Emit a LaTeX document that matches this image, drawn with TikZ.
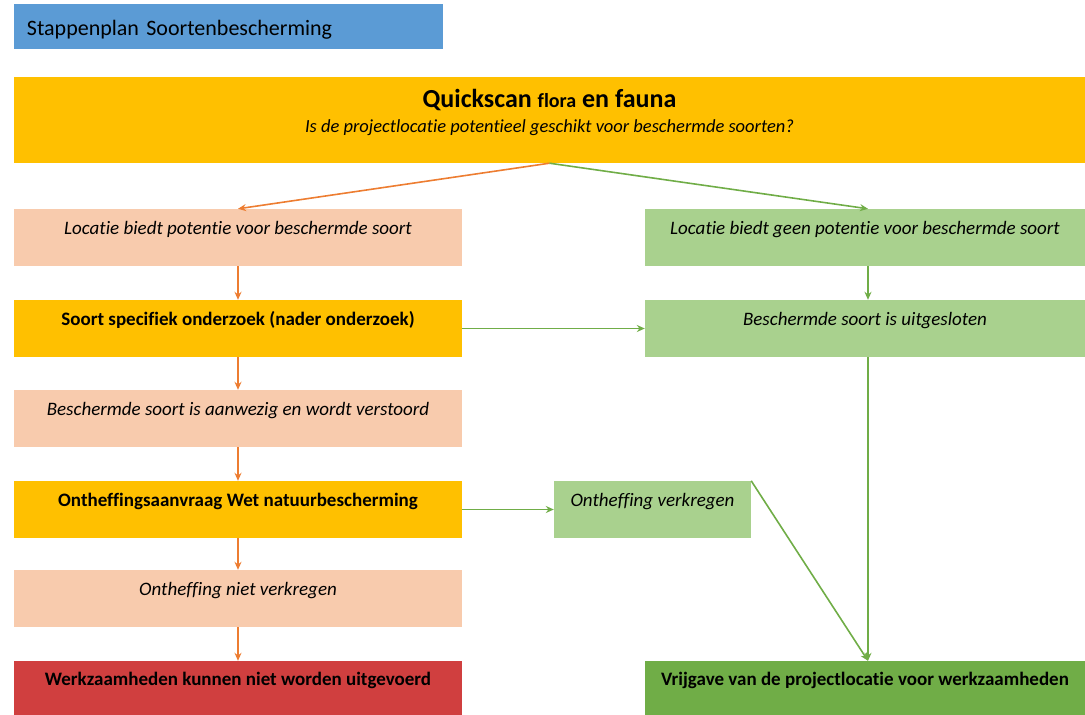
\documentclass[tikz,border=0pt]{standalone}
\usepackage{fontspec}
\setmainfont{Carlito}[Ligatures=NoCommon]
\usetikzlibrary{arrows.meta}
\definecolor{titleblue}{HTML}{5B9BD5}
\definecolor{scangold}{HTML}{FFC000}
\definecolor{peach}{HTML}{F8CBAD}
\definecolor{lightgreen}{HTML}{A9D18E}
\definecolor{stopred}{HTML}{D03F3F}
\definecolor{gogreen}{HTML}{70AD47}
\definecolor{arroworange}{HTML}{ED7D31}
\tikzset{
    stepbox/.style={minimum height=57pt, inner sep=0pt, align=center, font=\fontsize{19}{23}\selectfont},
    leftbox/.style={stepbox, minimum width=448pt},
    rightbox/.style={stepbox, minimum width=440pt},
    orangearrow/.style={draw=arroworange, line width=1.6pt, -{Stealth[length=8pt,width=7pt]}},
    greenarrow/.style={draw=gogreen, line width=1.6pt, -{Stealth[length=8pt,width=7pt]}}
}
\begin{document}
\begin{tikzpicture}[x=1pt, y=-1pt]
        \useasboundingbox (0, 0) rectangle (1085, 715);
        \draw
            (228.5, 26.5) node [fill=titleblue, minimum width=429pt, minimum height=45pt, text width=403pt, inner sep=0pt, align=left, font=\fontsize{22}{26}\selectfont] (T) {\raisebox{-3pt}[\height][\depth]{Stappenplan Soortenbescherming}}
            (549.5, 120) node [fill=scangold, minimum width=1071pt, minimum height=86pt, inner sep=0pt, align=center] (Q)
                {{\fontsize{26}{28}\selectfont\bfseries Quickscan {\fontsize{20}{28}\selectfont flora} en fauna}\\[8pt]
                 {\fontsize{18.5}{22}\selectfont\itshape Is de projectlocatie potentieel geschikt voor beschermde soorten?}\\[6pt]\mbox{}}

            (238, 237.5) node [leftbox, fill=peach] (L1) {\itshape Locatie biedt potentie voor beschermde soort\\[-3pt] \mbox{}}
            (238, 328.5) node [leftbox, fill=scangold] (L2) {\bfseries Soort specifiek onderzoek (nader onderzoek)\\[-3pt] \mbox{}}
            (238, 418.5) node [leftbox, fill=peach] (L3) {\itshape Beschermde soort is aanwezig en wordt verstoord\\[-3pt] \mbox{}}
            (238, 509.5) node [leftbox, fill=scangold] (L4) {\bfseries Ontheffingsaanvraag Wet natuurbescherming\\[-3pt] \mbox{}}
            (238, 598.5) node [leftbox, fill=peach] (L5) {\itshape Ontheffing niet verkregen\\[-3pt] \mbox{}}
            (238, 688.5) node [leftbox, fill=stopred, minimum height=55pt] (L6) {\bfseries Werkzaamheden kunnen niet worden uitgevoerd\\[-3pt] \mbox{}}

            (652.5, 509.5) node [stepbox, fill=lightgreen, minimum width=197pt] (M) {\itshape Ontheffing verkregen\\[-3pt] \mbox{}}

            (865, 237.5) node [rightbox, fill=lightgreen] (R1) {\itshape Locatie biedt geen potentie voor beschermde soort\\[-3pt] \mbox{}}
            (865, 328.5) node [rightbox, fill=lightgreen] (R2) {\itshape Beschermde soort is uitgesloten\\[-3pt] \mbox{}}
            (865, 688.5) node [rightbox, fill=gogreen, minimum height=55pt] (R6) {\bfseries Vrijgave van de projectlocatie voor werkzaamheden\\[-3pt] \mbox{}}
            ;
        % left column
        \draw [orangearrow] (Q.south) -- (L1.north);
        \draw [orangearrow] (L1) -- (L2);
        \draw [orangearrow] (L2) -- (L3);
        \draw [orangearrow] (L3) -- (L4);
        \draw [orangearrow] (L4) -- (L5);
        \draw [orangearrow] (L5) -- (L6);
        % right column
        \draw [greenarrow] (Q.south) -- ([xshift=3pt]R1.north);
        \draw [greenarrow] ([xshift=3pt]R1.south) -- ([xshift=3pt]R2.north);
        \draw [greenarrow] (L2.east) -- (R2.west);
        \draw [greenarrow] (L4.east) -- (M.west);
        \draw [greenarrow] (M.north east) -- ([xshift=3pt]R6.north);
        \draw [greenarrow] ([xshift=3pt]R2.south) -- ([xshift=3pt]R6.north);
    \end{tikzpicture}
\end{document}
